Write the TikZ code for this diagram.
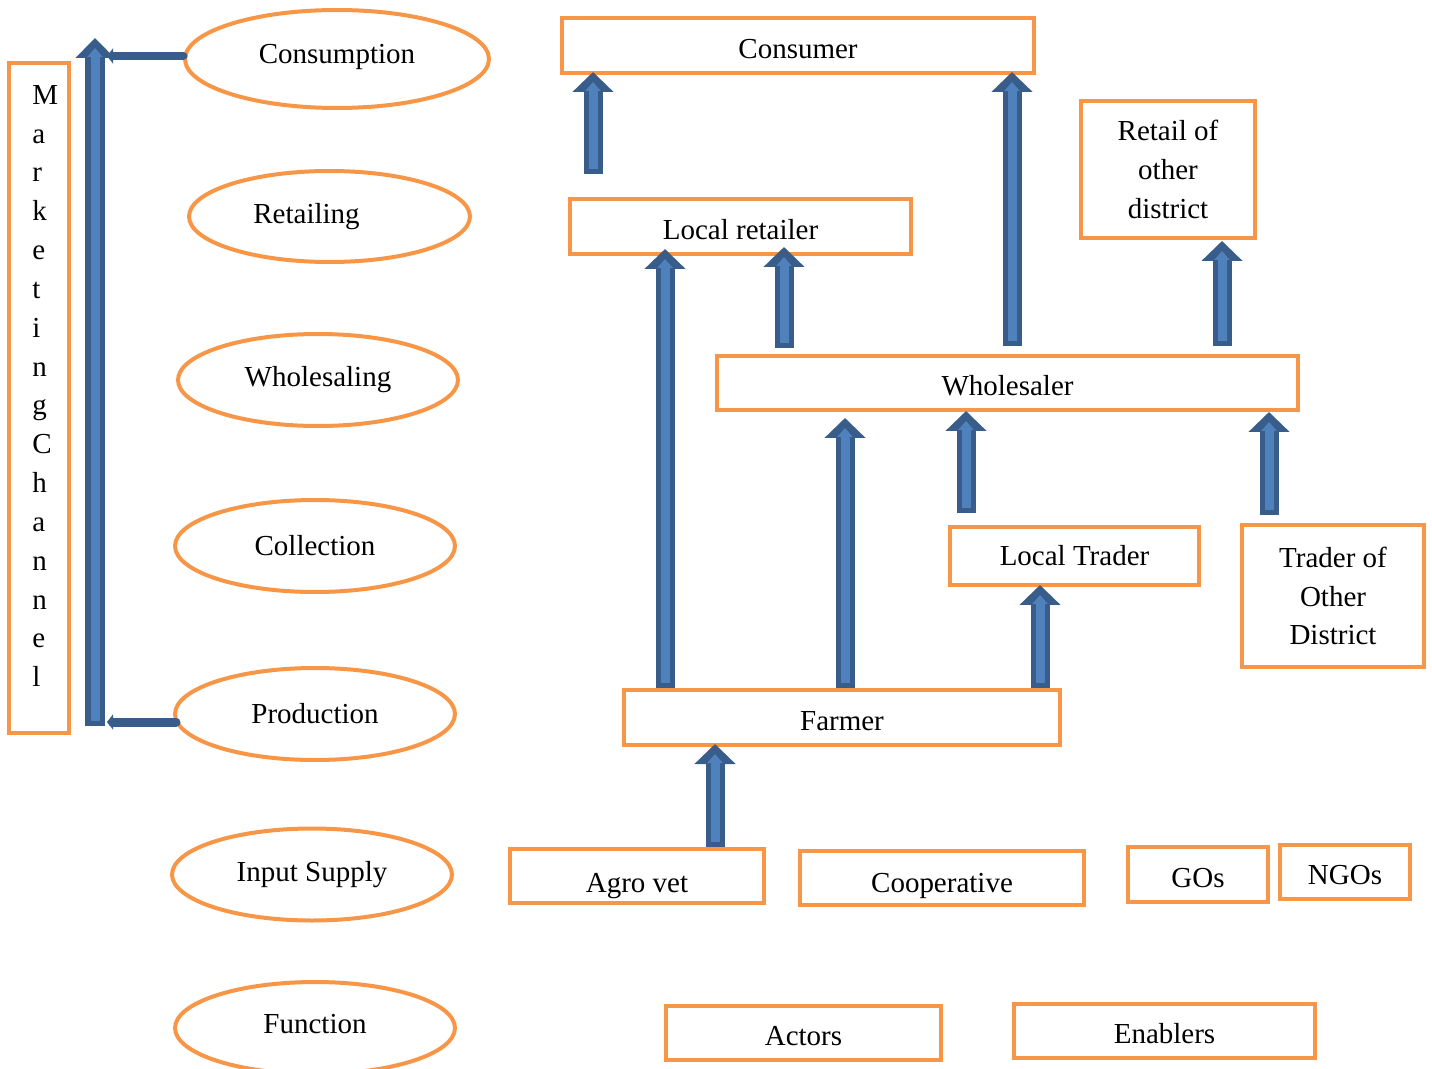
\documentclass[tikz,border=0pt]{standalone}
\usepackage{fontspec}
\setmainfont{Liberation Serif}
\definecolor{mOrange}{HTML}{F79646}
\definecolor{mBlue}{HTML}{4F81BD}
\definecolor{mDark}{HTML}{385D8A}
\usetikzlibrary{arrows.meta, shapes.geometric, calc}
\newcommand{\uparr}[2]{\draw[arrout] #1 -- #2; \draw[arrin] #1 -- #2;}
\newcommand{\movetxt}[2]{\raisebox{#1}[0.9em][0.25em]{#2}}

\begin{document}
\begin{tikzpicture}[x=0.02cm, y=-0.02cm,
  every node/.style={font=\fontsize{16.5}{22}\selectfont},
  obox/.style={draw=mOrange, line width=0.08cm, inner sep=0pt, align=center},
  oell/.style={ellipse, draw=mOrange, line width=0.08cm, inner sep=0pt,
               minimum width=5.6cm, minimum height=1.84cm},
  arrout/.style={draw=mDark, line width=0.38cm, -{Triangle[length=0.4cm, width=0.8cm]}},
  arrin/.style={draw=mBlue, line width=0.18cm, shorten >=0.2cm, shorten <=0.1cm,
                -{Triangle[length=0.18cm, width=0.3cm]}},
  bigout/.style={draw=mDark, line width=0.4cm, -{Triangle[length=0.4cm, width=0.76cm]}},
  link/.style={draw=mDark, line width=0.18cm, line cap=round,
               -{Triangle[length=0.12cm, width=0.3cm]}}]
\useasboundingbox (0,0) rectangle (1432,1068);

\node[obox, minimum width=1.2cm, minimum height=13.4cm] (mch) at (39,398) {};
\node[align=left, inner sep=0pt, anchor=west, font=\fontsize{16.5}{22.1}\selectfont] (mtxt) at (32,386)
  {M\\a\\r\\k\\e\\t\\i\\n\\g\\C\\h\\a\\n\\n\\e\\l};

\node[oell, minimum width=6.08cm, minimum height=1.96cm] (econs) at (337,59) {\movetxt{3pt}{Consumption}};
\node[oell, minimum width=5.62cm, minimum height=1.82cm] (eret) at (329.5,216.5) {\hspace*{-0.92cm}Retailing};
\node[oell] (ewhl) at (318,380) {Wholesaling};
\node[oell] (ecol) at (315,546) {Collection};
\node[oell] (eprod) at (315,714) {Production};
\node[oell] (einp) at (312,874.5) {Input Supply};
\node[oell] (efun) at (315,1028) {\movetxt{2pt}{Function}};

\coordinate (chtop) at (95,38);
\coordinate (chbot) at (95,726);
\coordinate (chlink) at (107,0);
\draw[bigout] (chbot) -- (chtop);
\draw[draw=mBlue, line width=0.18cm, shorten >=0.2cm, shorten <=0.1cm,
      -{Triangle[length=0.18cm, width=0.3cm]}] (chbot) -- (chtop);
\draw[link] ($(econs.west)+(0,-3)$) -- ($(econs.west -| chlink)+(0,-3)$);
\draw[link] ($(eprod.west)+(3,8)$) -- ($(eprod.west -| chlink)+(0,8)$);

\node[obox, minimum width=9.44cm, minimum height=1.1cm] (cons) at (798,45.5) {\movetxt{-2pt}{Consumer}};
\node[obox, minimum width=6.82cm, minimum height=1.1cm] (lret) at (740.5,226.5) {\movetxt{-2pt}{Local retailer}};
\node[obox, minimum width=3.48cm, minimum height=2.74cm] (rod) at (1168,169.5) {Retail of\\other\\district};
\node[obox, minimum width=11.62cm, minimum height=1.08cm] (whl) at (1007.5,383) {\movetxt{-2pt}{Wholesaler}};
\node[obox, minimum width=4.98cm, minimum height=1.16cm] (ltr) at (1074.5,556) {Local Trader};
\node[obox, minimum width=3.64cm, minimum height=2.84cm] (tod) at (1333,596) {Trader of\\Other\\District};
\node[obox, minimum width=8.72cm, minimum height=1.1cm] (farm) at (842,717.5) {\movetxt{-2pt}{Farmer}};
\node[obox, minimum width=5.08cm, minimum height=1.08cm] (agro) at (637,876) {\movetxt{-4pt}{Agro vet}};
\node[obox, minimum width=5.68cm, minimum height=1.08cm] (coop) at (942,878) {\movetxt{-3pt}{Cooperative}};
\node[obox, minimum width=2.8cm, minimum height=1.1cm] (gos) at (1198,874.5) {\movetxt{-2pt}{GOs}};
\node[obox, minimum width=2.6cm, minimum height=1.08cm] (ngos) at (1345,872) {\movetxt{-2pt}{NGOs}};
\node[obox, minimum width=5.5cm, minimum height=1.08cm] (act) at (803.5,1033) {\movetxt{-2pt}{Actors}};
\node[obox, minimum width=6.02cm, minimum height=1.08cm] (enab) at (1164.5,1031) {\movetxt{-2pt}{Enablers}};

\uparr{($(593,0 |- lret.north)+(0,-23)$)}{($(593,0 |- cons.south)+(0,-3)$)}
\uparr{($(1012,0 |- whl.north)+(0,-8)$)}{($(1012,0 |- cons.south)+(0,-3)$)}
\uparr{($(1222,0 |- whl.north)+(0,-8)$)}{($(1222,0 |- rod.south)+(0,1)$)}
\uparr{(665,0 |- farm.north)}{($(665,0 |- lret.south)+(0,-7)$)}
\uparr{($(784,0 |- whl.north)+(0,-6)$)}{($(784,0 |- lret.south)+(0,-9)$)}
\uparr{(845,0 |- farm.north)}{($(845,0 |- whl.south)+(0,6)$)}
\uparr{($(966,0 |- ltr.north)+(0,-12)$)}{($(966,0 |- whl.south)+(0,-1)$)}
\uparr{($(1269,0 |- tod.north)+(0,-8)$)}{(1269,0 |- whl.south)}
\uparr{(1040,0 |- farm.north)}{($(1040,0 |- ltr.south)+(0,-2)$)}
\uparr{(715,0 |- agro.north)}{($(715,0 |- farm.south)+(0,-3)$)}
\end{tikzpicture}
\end{document}
